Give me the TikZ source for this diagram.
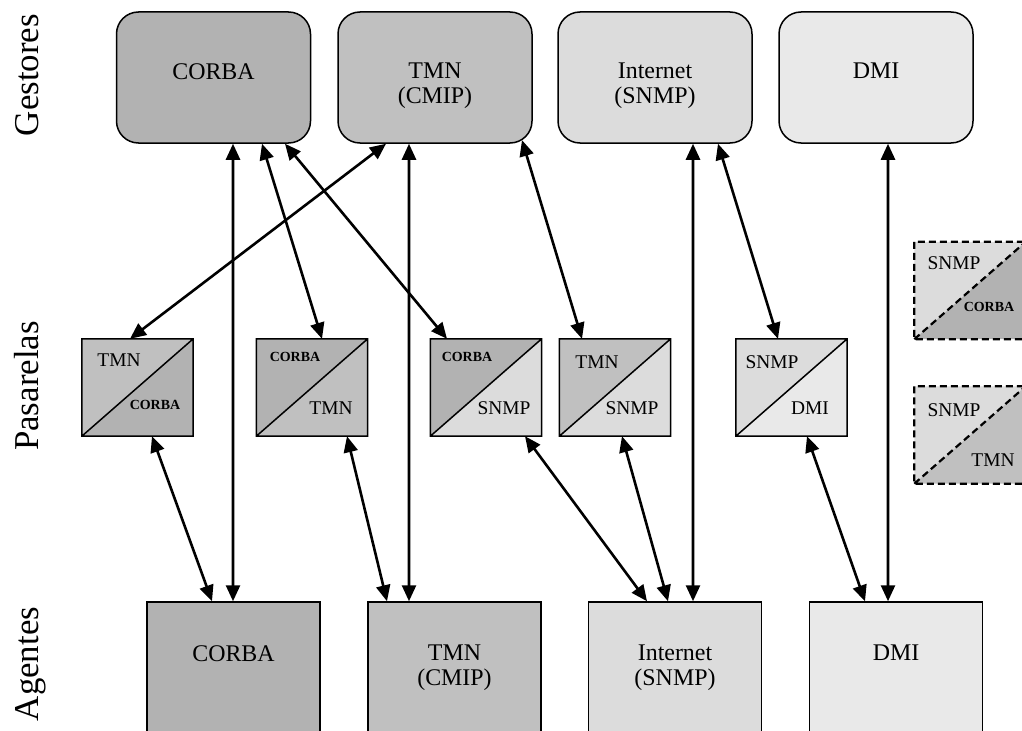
\documentclass[tikz,border=0pt]{standalone}
\usepackage{fontspec}
\setmainfont{Liberation Serif}
\usetikzlibrary{arrows.meta}

\definecolor{cCorba}{RGB}{178,178,178}
\definecolor{cTmn}{RGB}{192,192,192}
\definecolor{cSnmp}{RGB}{220,220,220}
\definecolor{cDmi}{RGB}{233,233,233}

% gateway square split along its diagonal: name, upper-left fill, lower-right fill, line style
\newcommand\splitbox[4]{%
  \fill[#2] (#1.north west) -- (#1.north east) -- (#1.south west) -- cycle;
  \fill[#3] (#1.south west) -- (#1.north east) -- (#1.south east) -- cycle;
  \draw[#4] (#1.north west) rectangle (#1.south east)
            (#1.south west) -- (#1.north east);
}

\begin{document}
\begin{tikzpicture}[x=1bp,y=-1bp,
  mgr/.style={draw, line width=1.5bp, rounded corners=22bp,
    minimum width=194bp, minimum height=131bp, inner sep=0pt},
  agt/.style={draw, line width=1.5bp,
    minimum width=173bp, minimum height=150bp, inner sep=0pt},
  gwy/.style={minimum width=111bp, minimum height=97bp, inner sep=0pt},
  solidedge/.style={line width=1.5bp},
  dashedge/.style={line width=2.2bp, dash pattern=on 7bp off 4bp},
  boxtxt/.style={font=\fontsize{24}{25}\selectfont, align=center,
    anchor=north, inner sep=0pt},
  gtxt/.style={font=\fontsize{19.5}{21}\selectfont, inner sep=0pt},
  gbold/.style={font=\bfseries\fontsize{14}{16}\selectfont, inner sep=0pt},
  side/.style={font=\fontsize{35}{40}\selectfont, rotate=90,
    anchor=base, inner sep=0pt},
  link/.style={line width=2.6bp,
    {Triangle[length=16bp,width=14bp]}-{Triangle[length=16bp,width=14bp]}}
]
\clip (0,0) rectangle (1022,731);

% row titles
\node[side] (tGes) at (38,75)  {Gestores};
\node[side] (tPas) at (38,386) {Pasarelas};
\node[side] (tAge) at (38,664) {Agentes};

% managers
\node[mgr, fill=cCorba] (mc) at (213.5,77.5) {};
\node[mgr, fill=cTmn]   (mt) at (435,77.5)   {};
\node[mgr, fill=cSnmp]  (mi) at (655,77.5)   {};
\node[mgr, fill=cDmi]   (md) at (876,77.5)   {};
\node[boxtxt] (mcT) at (213.5,63) {CORBA};
\node[boxtxt] (mtT) at (435,63)   {TMN\\(CMIP)};
\node[boxtxt] (miT) at (655,63)   {Internet\\(SNMP)};
\node[boxtxt] (mdT) at (876,63)   {DMI};

% agents
\node[agt, fill=cCorba] (a1) at (233.5,677) {};
\node[agt, fill=cTmn]   (a2) at (454.5,677) {};
\node[agt, fill=cSnmp]  (a3) at (675,677)   {};
\node[agt, fill=cDmi]   (a4) at (896,677)   {};
\node[boxtxt] (a1T) at (233.5,645) {CORBA};
\node[boxtxt] (a2T) at (454.5,645) {TMN\\(CMIP)};
\node[boxtxt] (a3T) at (675,645)   {Internet\\(SNMP)};
\node[boxtxt] (a4T) at (896,645)   {DMI};

% gateways
\node[gwy] (g1) at (137.5,387.5) {};
\node[gwy] (g2) at (312,387.5)   {};
\node[gwy] (g3) at (486,387.5)   {};
\node[gwy] (g4) at (615,387.5)   {};
\node[gwy] (g5) at (791.5,387.5) {};
\node[gwy] (g6) at (970,290.5)   {};
\node[gwy] (g7) at (970,435)     {};
\splitbox{g1}{cTmn}{cCorba}{solidedge}
\splitbox{g2}{cCorba}{cTmn}{solidedge}
\splitbox{g3}{cCorba}{cSnmp}{solidedge}
\splitbox{g4}{cTmn}{cSnmp}{solidedge}
\splitbox{g5}{cSnmp}{cDmi}{solidedge}
\splitbox{g6}{cSnmp}{cCorba}{dashedge}
\splitbox{g7}{cSnmp}{cTmn}{dashedge}

\node[gtxt]  (g1a) at (119,360)   {TMN};
\node[gbold] (g1b) at (155,405)   {CORBA};
\node[gbold] (g2a) at (295,357)   {CORBA};
\node[gtxt]  (g2b) at (331,408)   {TMN};
\node[gbold] (g3a) at (467,357)   {CORBA};
\node[gtxt]  (g3b) at (504,408)   {SNMP};
\node[gtxt]  (g4a) at (597,362)   {TMN};
\node[gtxt]  (g4b) at (632,408)   {SNMP};
\node[gtxt]  (g5a) at (772,362)   {SNMP};
\node[gtxt]  (g5b) at (810,408)   {DMI};
\node[gtxt]  (g6a) at (954,263)   {SNMP};
\node[gbold] (g6b) at (989,307)   {CORBA};
\node[gtxt]  (g7a) at (954,410)   {SNMP};
\node[gtxt]  (g7b) at (993,460)   {TMN};

% managers <-> agents and gateways
\draw[link] ([xshift=19.5bp]mc.south) -- ([xshift=-0.5bp]a1.north);
\draw[link] ([xshift=48.5bp]mc.south) -- ([xshift=10bp]g2.north);
\draw[link] ([xshift=71.5bp]mc.south) -- ([xshift=-39bp]g3.north);
\draw[link] ([xshift=-49bp]mt.south)  -- ([xshift=-7.5bp]g1.north);
\draw[link] ([xshift=-26bp]mt.south)  -- ([xshift=-45.5bp]a2.north);
\draw[link] ([xshift=87bp,yshift=3.6bp]mt.south) -- ([xshift=-33bp]g4.north);
\draw[link] ([xshift=38bp]mi.south)   -- ([xshift=18bp]a3.north);
\draw[link] ([xshift=63bp]mi.south)   -- ([xshift=-13.5bp]g5.north);
\draw[link] ([xshift=12bp]md.south)   -- ([xshift=-8bp]a4.north);

% gateways <-> agents
\draw[link] ([xshift=14.5bp]g1.south) -- ([xshift=-21.5bp]a1.north);
\draw[link] ([xshift=35bp]g2.south)   -- ([xshift=-67.5bp]a2.north);
\draw[link] ([xshift=39bp]g3.south)   -- ([xshift=-28bp]a3.north);
\draw[link] ([xshift=7bp]g4.south)    -- ([xshift=-7bp]a3.north);
\draw[link] ([xshift=15.5bp]g5.south) -- ([xshift=-31bp]a4.north);
\end{tikzpicture}
\end{document}
